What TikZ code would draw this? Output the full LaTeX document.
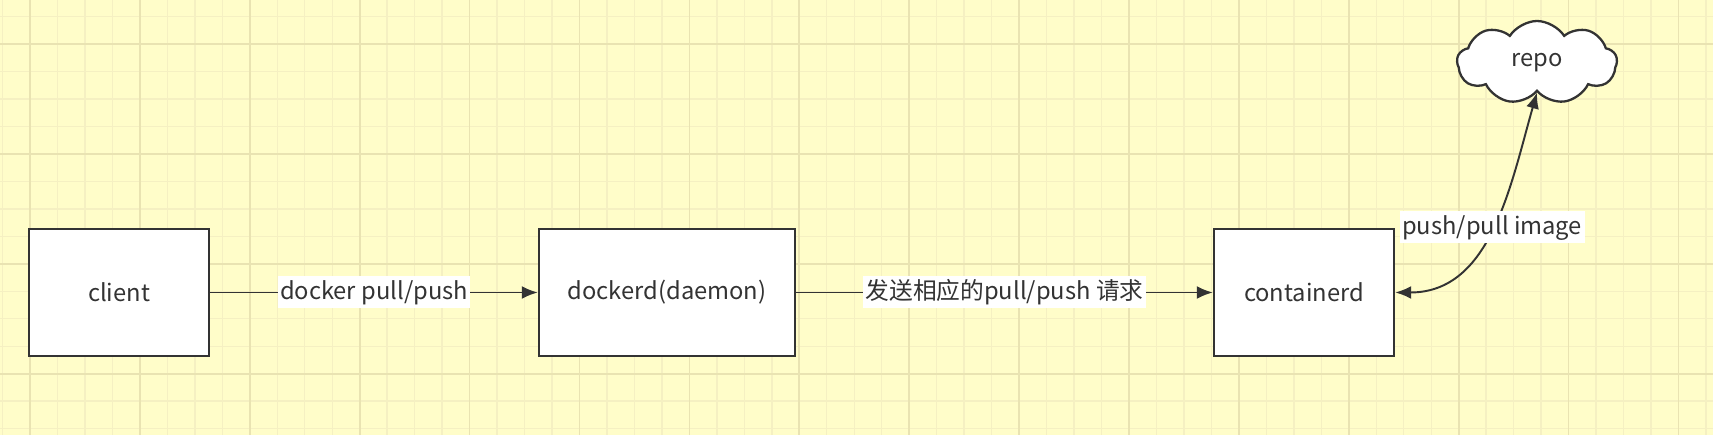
\documentclass[tikz,border=0pt]{standalone}
\usepackage{fontspec}
\setmainfont{Noto Sans CJK SC}
\usepackage{tikz}
\usetikzlibrary{arrows.meta, shapes.symbols}
\usepackage{xcolor}

\definecolor{paper}{HTML}{FFFDC9}
\definecolor{gridminor}{HTML}{F5F0C2}
\definecolor{gridmajor}{HTML}{E9E3B2}
\definecolor{ink}{HTML}{333333}

\begin{document}
\begin{tikzpicture}[
    font=\fontsize{13.5}{16}\selectfont,
    box/.style={draw=ink, line width=1.4pt, fill=white, text=ink,
                minimum width=3.6cm, minimum height=2.54cm, inner sep=0pt},
    flow/.style={draw=ink, line width=1.1pt, -{Latex[length=0.32cm, width=0.26cm]}},
    tag/.style={fill=white, text=ink, inner sep=0.05cm, text height=0.42cm, text depth=0.12cm}
]

        % 1. Paper and grid
        \pgfmathsetmacro{\minorstep}{0.5495} % small cell
        \pgfmathsetmacro{\gridx}{0.6}        % first major line from the left
        \pgfmathsetmacro{\gridy}{7.82}       % first major line from the top

        \fill[paper] (0,0) rectangle (34.26,8.70);
        \useasboundingbox (0,0) rectangle (34.26,8.70);

        \foreach \i in {-1,...,62} {
            \draw[gridminor, line width=0.8pt] ({\gridx+\i*\minorstep},0) -- ++(0,8.70);
        }
        \foreach \j in {-1,...,15} {
            \draw[gridminor, line width=0.8pt] (0,{\gridy-\j*\minorstep}) -- ++(34.26,0);
        }
        \foreach \i in {0,4,...,60} {
            \draw[gridmajor, line width=1pt] ({\gridx+\i*\minorstep},0) -- ++(0,8.70);
        }
        \foreach \j in {0,4,...,12} {
            \draw[gridmajor, line width=1pt] (0,{\gridy-\j*\minorstep}) -- ++(34.26,0);
        }

        % 2. The three boxes and the cloud
        \node[box] (client) at (2.38, 2.85) {client};
        \node[box, minimum width=5.12cm] (dockerd) at (13.34, 2.85) {dockerd(daemon)};
        \node[box] (containerd) at (26.08, 2.85) {containerd};
        \node[cloud, draw=ink, line width=1.3pt, fill=white, text=ink,
              cloud puffs=9, cloud puff arc=115, cloud ignores aspect,
              minimum width=3.2cm, minimum height=1.66cm, inner sep=0pt] (repo) at (30.74, 7.45) {repo};

        % 3. Requests from left to right
        \draw[flow] (client) -- node[tag] {docker pull/push} (dockerd);
        \draw[flow] (dockerd) -- node[tag] {发送相应的pull/push 请求} (containerd);

        % 4. Image exchange with the repo
        \draw[flow, {Latex[length=0.32cm, width=0.26cm]}-{Latex[length=0.32cm, width=0.26cm]}]
            (containerd.east) to[out=0, in=-106] node[tag, pos=0.5] {push/pull image} (repo.south);

\end{tikzpicture}
\end{document}
